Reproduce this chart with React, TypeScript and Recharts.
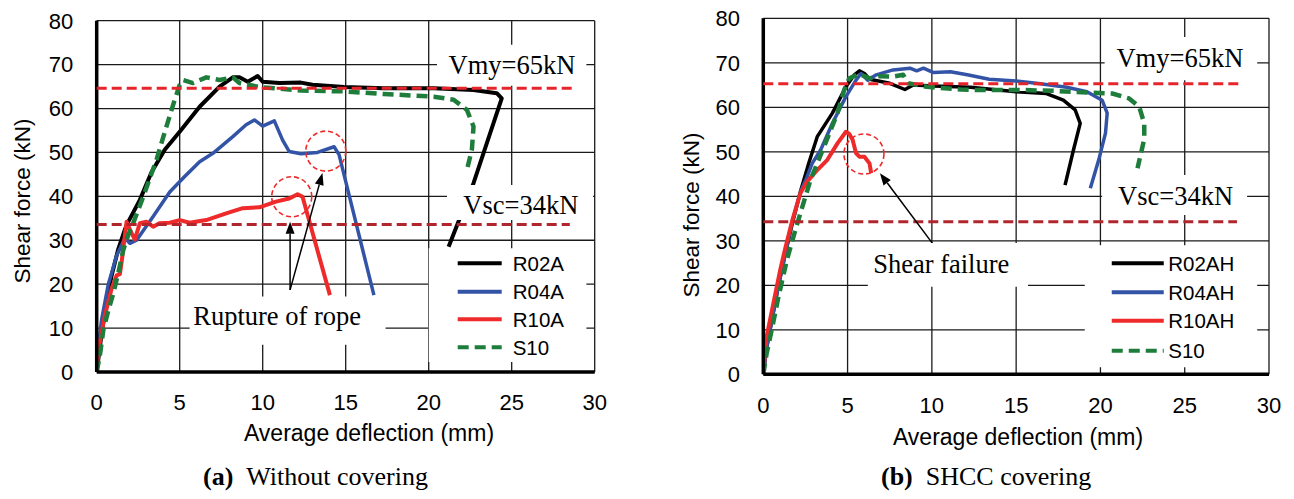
import React from "react";
import {
  LineChart,
  Line,
  XAxis,
  YAxis,
  CartesianGrid,
  ReferenceLine,
  ReferenceArea,
  ReferenceDot,
} from "recharts";

type Pt = [number, number];

const X_TICKS = [0, 5, 10, 15, 20, 25, 30];
const Y_TICKS = [0, 10, 20, 30, 40, 50, 60, 70, 80];

// (a) without covering — [deflection mm, shear kN]
const R02A: Pt[] = [
  [0, 0], [0.2, 6], [0.5, 14], [0.9, 22], [1.3, 28], [1.7, 32.5], [1.9, 34.2],
  [2.6, 39.2], [3.3, 45.5], [4.1, 50.6], [5.0, 54.7], [6.2, 60.4], [7.4, 65],
  [8.2, 67.1], [8.6, 67.1], [9.1, 66.1], [9.7, 67.4], [10.0, 66.1], [11, 65.8],
  [12.3, 65.9], [13, 65.4], [14.9, 64.9], [17.3, 64.6], [20.3, 64.6], [22.7, 64.2],
  [24.1, 63.5], [24.4, 62.3], [22.7, 43], [21.2, 28.5],
];
const R04A: Pt[] = [
  [0, 0], [0.1, 6], [0.3, 12], [0.7, 20], [1.2, 26.5], [1.7, 30.5], [2.0, 29.3],
  [2.4, 30], [3.4, 35.4], [4.4, 41], [5.3, 44.5], [6.2, 47.9], [7.0, 49.8],
  [8.2, 53.6], [9.0, 56.3], [9.5, 57.4], [10.0, 56], [10.7, 57.2], [11.2, 52.8],
  [11.6, 50.2], [12.3, 49.7], [13.3, 50], [14.3, 51.3], [14.6, 49.5], [16.7, 17.5],
];
const R10A: Pt[] = [
  [0, 0], [0.1, 5], [0.5, 13], [0.9, 19], [1.2, 22], [1.4, 22.3], [1.5, 25],
  [1.8, 34.2], [2.1, 31.6], [2.3, 30.2], [2.6, 33.9], [3.0, 34.2], [3.4, 33.1],
  [3.8, 33.9], [4.4, 34], [5.0, 34.6], [5.6, 34], [6.6, 34.6], [7.8, 36.1],
  [8.8, 37.3], [9.8, 37.5], [10.8, 38.8], [11.6, 39.5], [12.1, 40.5], [12.4, 39.9],
  [14.05, 17.5],
];
const S10A: Pt[] = [
  [0, 0], [0.2, 4], [0.4, 9.6], [0.7, 14], [1.0, 17.9], [1.3, 22.5], [1.6, 27.8],
  [1.9, 31.2], [2.2, 33.9], [2.8, 39.9], [3.6, 48.3], [4.2, 55.9], [4.7, 62],
  [5.0, 65.4], [5.2, 66.5], [5.8, 65.8], [6.6, 67.1], [7.4, 66.5], [8.2, 67.1],
  [8.6, 65.8], [9.8, 64.9], [12.3, 64.1], [14.9, 63.9], [17.3, 63.3], [20.3, 62.7],
  [21.5, 62], [22.3, 59.7], [22.7, 55.9], [22.6, 50.6], [22.3, 46],
];

// (b) SHCC covering
const R02AH: Pt[] = [
  [0, 0], [0.2, 6], [0.5, 12], [0.9, 20], [1.3, 27], [1.7, 33.5], [2.2, 41],
  [2.7, 47.5], [3.2, 53.4], [4.1, 58.7], [4.9, 64.6], [5.4, 67.3], [5.7, 68.2],
  [6.0, 67.6], [6.3, 66.3], [7.5, 65.4], [8.4, 64], [8.9, 65], [10.1, 64.8],
  [12.3, 64.5], [15.0, 63.5], [16.8, 63.1], [17.8, 61.6], [18.5, 59.4], [18.8, 56.4],
  [18.4, 50.4], [17.9, 42.5],
];
const R04AH: Pt[] = [
  [0, 0], [0.2, 6], [0.5, 12], [0.9, 20], [1.3, 27], [1.7, 34], [2.2, 41],
  [2.6, 44.4], [2.9, 47.4], [3.4, 50.4], [4.1, 56.4], [4.9, 62.4], [5.5, 66.1],
  [5.8, 67.6], [6.2, 66.1], [6.7, 67.3], [7.7, 68.4], [8.7, 68.8], [9.1, 68.2],
  [9.5, 68.8], [10.1, 67.8], [11.1, 68], [12.1, 67.3], [13.4, 66.3], [15, 65.9],
  [16.2, 65.4], [18, 64.5], [19.2, 63.5], [20.1, 61.6], [20.4, 58.7], [20.3, 54.2],
  [19.9, 48.2], [19.4, 41.8],
];
const R10AH: Pt[] = [
  [0, 0], [0.05, 2.5], [0.2, 8.5], [0.6, 16], [1.0, 23.4], [1.3, 28.3], [1.7, 34.3],
  [2.2, 40.7], [2.6, 43.3], [3.2, 45.9], [3.8, 48.2], [4.4, 51.9], [4.9, 54.5],
  [5.1, 54], [5.3, 52.7], [5.5, 49.7], [5.7, 48.9], [6.0, 48.9], [6.3, 47.4],
  [6.4, 45.2],
];
const S10B: Pt[] = [
  [0, 0], [0.2, 4.7], [0.5, 10], [0.9, 17.4], [1.4, 25.7], [1.9, 32.4], [2.2, 36.2],
  [2.8, 43.7], [3.6, 51.1], [4.4, 58.7], [4.8, 63.9], [5.1, 66.5], [5.7, 67.5],
  [6.3, 66.5], [6.9, 67], [7.7, 66.9], [8.3, 67.3], [8.6, 65.4], [9.7, 64.6],
  [11.7, 64], [12.6, 63.9], [15.2, 63.9], [17.2, 63.7], [19.2, 63.3], [20.7, 63.1],
  [21.7, 62], [22.3, 60.1], [22.6, 56.4], [22.6, 52.9], [22.2, 46.3],
];

// design strengths: [value, end of line]
const VMY_A: Pt = [64.6, 28.9];
const VSC_A: Pt = [33.6, 28.5];
const VMY_B: Pt = [65.3, 28.4];
const VSC_B: Pt = [34.3, 28.1];

// marked points (dashed circles) and arrows [from, to]
const CIRCLES_A: Pt[] = [[11.75, 39.9], [13.8, 50.3]];
const CIRCLES_B: Pt[] = [[5.97, 49.5]];
const ARROWS_A: [Pt, Pt][] = [
  [[11.65, 18.7], [11.65, 34.2]],
  [[11.65, 18.7], [13.6, 45.3]],
];
const ARROWS_B: [Pt, Pt][] = [[[10.18, 28.7], [6.92, 45.2]]];

const SANS = '"Liberation Sans", Arial, Helvetica, sans-serif';
const SERIF = '"Liberation Serif", "Times New Roman", serif';

const BLACK = "#000000";
const BLUE = "#3354a6";
const RED = "#ee2a2a";
const GREEN = "#1f7d3c";
const VMY_COLOR = "#e8242b";
const VSC_COLOR = "#b1262c";

type Series = { name: string; data: Pt[]; color: string; width: number; dash?: string };

const SERIES_A: Series[] = [
  { name: "R02A", data: R02A, color: BLACK, width: 4 },
  { name: "R04A", data: R04A, color: BLUE, width: 3.5 },
  { name: "R10A", data: R10A, color: RED, width: 4 },
  { name: "S10", data: S10A, color: GREEN, width: 4.5, dash: "11 6" },
];
const SERIES_B: Series[] = [
  { name: "R02AH", data: R02AH, color: BLACK, width: 3.5 },
  { name: "R04AH", data: R04AH, color: BLUE, width: 3.5 },
  { name: "R10AH", data: R10AH, color: RED, width: 4 },
  { name: "S10", data: S10B, color: GREEN, width: 4.5, dash: "11 6" },
];

type TextBox = { text: string; x: Pt; y: Pt; dx: number; dy: number };

const BOXES_A: TextBox[] = [
  { text: "Vmy=65kN", x: [20.5, 29.5], y: [65.2, 74.5], dx: 11.5, dy: 29 },
  { text: "Vsc=34kN", x: [21.1, 29.9], y: [34.6, 42.6], dx: 16.3, dy: 29 },
  { text: "Rupture of rope", x: [5.6, 17.4], y: [6.2, 17.2], dx: 3.6, dy: 28.5 },
];
const BOXES_B: TextBox[] = [
  { text: "Vmy=65kN", x: [20.25, 29.3], y: [66.1, 75.8], dx: 11.8, dy: 29.7 },
  { text: "Vsc=34kN", x: [20.1, 28.7], y: [35.8, 44.8], dx: 15.9, dy: 30.1 },
  { text: "Shear failure", x: [6.2, 15.7], y: [19.7, 29.5], dx: 5.4, dy: 30.3 },
];

type PanelCfg = {
  left: number;
  margin: { top: number; right: number; bottom: number; left: number };
  series: Series[];
  vmy: Pt;
  vsc: Pt;
  circles: Pt[];
  arrows: [Pt, Pt][];
  boxes: TextBox[];
  legend: { x: Pt; y: Pt; lineX: number; lineLen: number; textX: number; rows: number[] };
  xTickMargin: number;
  xTitle: [number, number];
  yTitle: [number, number];
  caption: [string, string];
};

const toXY = (d: Pt[]) => d.map(([x, y]) => ({ x, y }));

function Arrow(props: any) {
  const { x1, y1, x2, y2 } = props;
  const len = Math.hypot(x2 - x1, y2 - y1) || 1;
  const ux = (x2 - x1) / len;
  const uy = (y2 - y1) / len;
  const hl = 12;
  const hw = 4.5;
  const bx = x2 - ux * hl;
  const by = y2 - uy * hl;
  return (
    <g>
      <line x1={x1} y1={y1} x2={bx} y2={by} stroke="#000" strokeWidth={1.5} />
      <polygon
        points={`${x2},${y2} ${bx - uy * hw},${by + ux * hw} ${bx + uy * hw},${by - ux * hw}`}
        fill="#000"
      />
    </g>
  );
}

function Panel({ p }: { p: PanelCfg }) {
  const lg = p.legend;
  return (
    <div style={{ position: "absolute", left: p.left, top: 0 }}>
      <LineChart width={640} height={460} margin={p.margin}>
        <CartesianGrid stroke="#1a1a1a" strokeWidth={1.3} />
        <XAxis
          type="number"
          dataKey="x"
          domain={[0, 30]}
          ticks={X_TICKS}
          interval={0}
          allowDataOverflow
          tickLine={false}
          tickSize={0}
          tickMargin={p.xTickMargin}
          axisLine={{ stroke: "#000", strokeWidth: 3.5 }}
          tick={{ fill: "#000", fontSize: 22, fontFamily: SANS }}
          height={60}
          label={() => (
            <text
              x={p.xTitle[0]}
              y={p.xTitle[1]}
              textAnchor="middle"
              fontSize={23}
              fontFamily={SANS}
              fill="#000"
            >
              Average deflection (mm)
            </text>
          )}
        />
        <YAxis
          type="number"
          dataKey="y"
          domain={[0, 80]}
          ticks={Y_TICKS}
          interval={0}
          allowDataOverflow
          tickLine={false}
          tickSize={0}
          tickMargin={23.4}
          axisLine={{ stroke: "#000", strokeWidth: 3.5 }}
          tick={{ fill: "#000", fontSize: 22, fontFamily: SANS }}
          width={70}
          label={() => (
            <text
              x={p.yTitle[0]}
              y={p.yTitle[1]}
              transform={`rotate(-90, ${p.yTitle[0]}, ${p.yTitle[1]})`}
              textAnchor="middle"
              dominantBaseline="central"
              fontSize={22.5}
              fontFamily={SANS}
              fill="#000"
            >
              Shear force (kN)
            </text>
          )}
        />
        {p.series.map((s) => (
          <Line
            key={s.name}
            name={s.name}
            data={toXY(s.data)}
            dataKey="y"
            type="linear"
            stroke={s.color}
            strokeWidth={s.width}
            strokeDasharray={s.dash}
            strokeLinejoin="round"
            dot={false}
            activeDot={false}
            isAnimationActive={false}
          />
        ))}
        <ReferenceLine
          segment={[{ x: 0, y: p.vmy[0] }, { x: p.vmy[1], y: p.vmy[0] }]}
          stroke={VMY_COLOR}
          strokeWidth={3}
          strokeDasharray="10 5"
          zIndex={1000}
        />
        <ReferenceLine
          segment={[{ x: 0, y: p.vsc[0] }, { x: p.vsc[1], y: p.vsc[0] }]}
          stroke={VSC_COLOR}
          strokeWidth={3}
          strokeDasharray="10 5"
          zIndex={1000}
        />
        {p.circles.map(([cx, cy], i) => (
          <ReferenceDot
            key={`c${i}`}
            x={cx}
            y={cy}
            r={20}
            fill="none"
            stroke={RED}
            strokeWidth={1.6}
            strokeDasharray="5 3"
            zIndex={1000}
          />
        ))}
        {p.arrows.map(([a, b], i) => (
          <ReferenceLine
            key={`a${i}`}
            segment={[{ x: a[0], y: a[1] }, { x: b[0], y: b[1] }]}
            shape={Arrow}
            zIndex={1000}
          />
        ))}
        {p.boxes.map((b) => (
          <ReferenceArea
            key={b.text}
            x1={b.x[0]}
            x2={b.x[1]}
            y1={b.y[0]}
            y2={b.y[1]}
            fill="#fff"
            fillOpacity={1}
            stroke="none"
            zIndex={1500}
            label={(lp: any) => {
              const vb = lp.viewBox || { x: 0, y: 0 };
              return (
                <text
                  x={vb.x + b.dx}
                  y={vb.y + b.dy}
                  fontSize={26.5}
                  fontFamily={SERIF}
                  fill="#000"
                >
                  {b.text}
                </text>
              );
            }}
          />
        ))}
        <ReferenceArea
          x1={lg.x[0]}
          x2={lg.x[1]}
          y1={lg.y[0]}
          y2={lg.y[1]}
          fill="#fff"
          fillOpacity={1}
          stroke="none"
          zIndex={1500}
          label={(lp: any) => {
            const vb = lp.viewBox || { x: 0, y: 0 };
            return (
              <g>
                {p.series.map((s, i) => {
                  const y = vb.y + lg.rows[i];
                  return (
                    <g key={s.name}>
                      <line
                        x1={vb.x + lg.lineX}
                        x2={vb.x + lg.lineX + lg.lineLen}
                        y1={y}
                        y2={y}
                        stroke={s.color}
                        strokeWidth={4}
                        strokeDasharray={s.dash}
                      />
                      <text
                        x={vb.x + lg.textX}
                        y={y + 7.5}
                        fontSize={20.5}
                        fontFamily={SANS}
                        fill="#000"
                      >
                        {s.name}
                      </text>
                    </g>
                  );
                })}
              </g>
            );
          }}
        />
      </LineChart>
    </div>
  );
}

const PANEL_A: PanelCfg = {
  left: 0,
  margin: { top: 20.7, right: 45.3, bottom: 28, left: 26.7 },
  series: SERIES_A,
  vmy: VMY_A,
  vsc: VSC_A,
  circles: CIRCLES_A,
  arrows: ARROWS_A,
  boxes: BOXES_A,
  legend: { x: [20.0, 29.5], y: [2.3, 28.2], lineX: 29, lineLen: 44, textX: 84, rows: [15.1, 43.5, 71.1, 99.1] },
  xTickMargin: 22,
  xTitle: [369, 441],
  yTitle: [22.5, 201],
  caption: ["(a)", "Without covering"],
};

const PANEL_B: PanelCfg = {
  left: 660,
  margin: { top: 18.3, right: 31, bottom: 25.7, left: 33.3 },
  series: SERIES_B,
  vmy: VMY_B,
  vsc: VSC_B,
  circles: CIRCLES_B,
  arrows: ARROWS_B,
  boxes: BOXES_B,
  legend: { x: [19.07, 29.3], y: [1.6, 29], lineX: 27, lineLen: 52, textX: 83.5, rows: [18.1, 47.1, 75.5, 105.5] },
  xTickMargin: 23.4,
  xTitle: [358, 445],
  yTitle: [31.2, 215],
  caption: ["(b)", "SHCC covering"],
};

export default function App() {
  return (
    <div style={{ position: "absolute", left: 0, top: 0, width: 1294, height: 499, background: "#fff" }}>
      <svg width={1294} height={499} style={{ position: "absolute", left: 0, top: 0 }}>
        {[
          { p: PANEL_A, x: 203 },
          { p: PANEL_B, x: 881 },
        ].map(({ p, x }) => (
          <text key={p.caption[0]} x={x} y={485} fontSize={26} fontFamily={SERIF} fill="#000" xmlSpace="preserve">
            <tspan fontWeight="bold">{p.caption[0]}</tspan>
            <tspan>{"\u00a0\u00a0" + p.caption[1]}</tspan>
          </text>
        ))}
      </svg>
      <Panel p={PANEL_A} />
      <Panel p={PANEL_B} />
    </div>
  );
}
